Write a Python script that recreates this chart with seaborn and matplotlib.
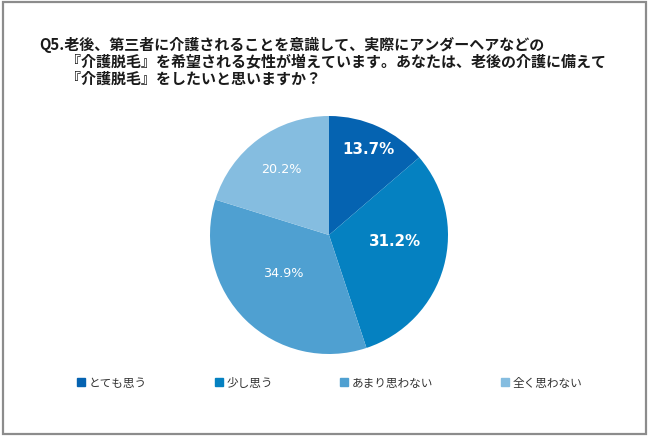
import numpy as np
import matplotlib
matplotlib.use("Agg")
import matplotlib.pyplot as plt
import seaborn as sns
from matplotlib.patches import Rectangle
from matplotlib.lines import Line2D

# data
answers = ["とても思う", "少し思う", "あまり思わない", "全く思わない"]
shares = [13.7, 31.2, 34.9, 20.2]
title_lines = [
    "Q5.老後、第三者に介護されることを意識して、実際にアンダーヘアなどの",
    "『介護脱毛』を希望される女性が増えています。あなたは、老後の介護に備えて",
    "『介護脱毛』をしたいと思いますか？",
]

sns.set_theme(style="white")
plt.rcParams['font.family'] = ['Noto Sans CJK JP', 'DejaVu Sans']

colors = ["#0563b1", "#0581c1", "#4fa0d1", "#85bde0"]
W, H = 650, 440
fig = plt.figure(figsize=(6.5, 4.4), dpi=100)

# outer frame
fig.patches.append(Rectangle((3 / W, 6 / H), 643 / W, 432 / H, transform=fig.transFigure,
                             fill=False, edgecolor="#8c8c8c", linewidth=1.6))

# title
title_pos = [(39, 45), (66, 62), (66, 79)]
for line, (tx, ty) in zip(title_lines, title_pos):
    fig.text(tx / W, 1 - ty / H, line, fontsize=10.8, fontweight="bold",
             va="center", color="#1a1a1a")

# pie
cx, cy, R = 329, 235, 119
ax = fig.add_axes([(cx - R) / W, (H - cy - R) / H, 2 * R / W, 2 * R / H])
wedges, _ = ax.pie(shares, colors=colors, startangle=90, counterclock=False,
                   wedgeprops=dict(linewidth=0))
ax.set_xlim(-1, 1)
ax.set_ylim(-1, 1)
ax.set_aspect("equal")
ax.axis("off")

label_r = [0.79, 0.56, 0.5, 0.68]
label_dang = [0, 9.5, -5, 0]
label_bold = [True, True, False, False]
for w, val, r, da, b in zip(wedges, shares, label_r, label_dang, label_bold):
    ang = np.deg2rad((w.theta1 + w.theta2) / 2 + da)
    ax.text(r * np.cos(ang), r * np.sin(ang), f"{val:.1f}%", ha="center", va="center",
            color="white", fontsize=10.8 if b else 9.2, fontweight="bold" if b else "normal",
            family=["DejaVu Sans"])

# legend
handles = [Line2D([], [], marker="s", linestyle="", markersize=5.6, color=c) for c in colors]
fig.legend(handles, answers, ncol=4, loc="center left", bbox_to_anchor=(77 / W, 1 - 383 / H),
           frameon=False, fontsize=8.4, handlelength=0.7, handletextpad=0.3,
           columnspacing=5.8, borderpad=0, borderaxespad=0, labelcolor="#333333")

plt.savefig("out.png", dpi=100)
